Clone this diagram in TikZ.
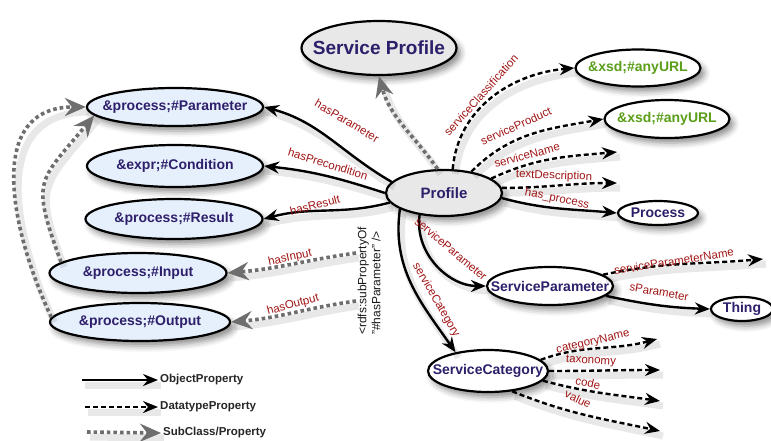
\documentclass[tikz,border=0pt]{standalone}
\usepackage{fontspec}
\setmainfont{Liberation Sans}
\usetikzlibrary{arrows.meta,shapes.geometric,shadows.blur}
\definecolor{nodeink}{HTML}{2E1F6B}
\definecolor{labelred}{HTML}{A01515}
\definecolor{urlgreen}{HTML}{5A9E1A}
\definecolor{paleblue}{HTML}{E6F0FC}
\definecolor{palegray}{HTML}{E8E8E8}
\definecolor{subgray}{HTML}{6E6E6E}
% text inside an ellipse that should not widen it
\newcommand{\innertext}[1]{\makebox[0pt]{#1}}
\tikzset{
  onto/.style={ellipse, draw=black, line width=2.2pt, inner sep=0pt, text=nodeink,
    font=\fontsize{14}{16}\selectfont\bfseries,
    blur shadow={shadow xshift=4pt, shadow yshift=-5pt, shadow blur radius=6pt, shadow opacity=45}},
  classnode/.style={onto, fill=paleblue},
  profnode/.style={onto, fill=palegray},
  plainnode/.style={onto, fill=white},
  urlnode/.style={plainnode, text=urlgreen},
  eshadow/.style={preaction={draw=black, draw opacity=0.09, line width=7pt, solid, -,
    transform canvas={shift={(3pt,-5pt)}}}},
  objprop/.style={eshadow, line width=2.4pt, -{Stealth[length=15pt,width=12pt,inset=5pt]}},
  dataprop/.style={objprop, dash pattern=on 5pt off 3pt},
  subprop/.style={eshadow, draw=subgray, line width=3.6pt, dash pattern=on 3.6pt off 3pt,
    -{Stealth[length=21pt,width=18pt,inset=7pt,fill=subgray]}},
  elabel/.style={text=labelred, font=\fontsize{11.5}{13}\selectfont, inner sep=1pt},
  legtext/.style={font=\fontsize{11.5}{13}\selectfont\bfseries, text=black!85, anchor=west, inner sep=2pt},
  notetext/.style={font=\fontsize{12}{14}\selectfont, text=black!90, align=left, inner sep=1pt},
}
\begin{document}
\begin{tikzpicture}[x=1pt, y=-1pt]
\useasboundingbox (0,0) rectangle (771,440);

% ---- classes ----
\node[profnode, minimum width=155pt, minimum height=54pt, font=\fontsize{19}{22}\selectfont\bfseries] (sp) at (379,48) {\innertext{Service Profile}};
\node[profnode, minimum width=116pt, minimum height=46pt, font=\fontsize{15}{18}\selectfont\bfseries] (prof) at (444,193) {\innertext{Profile}};
\node[classnode, minimum width=176pt, minimum height=38pt] (par) at (175,107) {\innertext{\&process;\#Parameter}};
\node[classnode, minimum width=176pt, minimum height=42pt] (cond) at (175,166) {\innertext{\&expr;\#Condition}};
\node[classnode, minimum width=177pt, minimum height=40pt] (res) at (174,219) {\innertext{\&process;\#Result}};
\node[classnode, minimum width=177pt, minimum height=40pt] (inp) at (138,273) {\innertext{\&process;\#Input}};
\node[classnode, minimum width=180pt, minimum height=38pt] (outp) at (140,322) {\innertext{\&process;\#Output}};
\node[urlnode, minimum width=125pt, minimum height=37pt] (url1) at (638,68) {\innertext{\&xsd;\#anyURL}};
\node[urlnode, minimum width=125pt, minimum height=38pt] (url2) at (667,119) {\innertext{\&xsd;\#anyURL}};
\node[plainnode, minimum width=80pt, minimum height=24pt] (proc) at (658,213) {\innertext{Process}};
\node[plainnode, minimum width=126pt, minimum height=38pt] (spar) at (550,286) {\innertext{ServiceParameter}};
\node[plainnode, minimum width=62pt, minimum height=24pt] (thing) at (742,309) {\innertext{Thing}};
\node[plainnode, minimum width=120pt, minimum height=42pt] (scat) at (488,371) {\innertext{ServiceCategory}};

% ---- open ends of datatype properties ----
\coordinate (nameEnd) at (617,152);
\coordinate (descEnd) at (617,183);
\coordinate (spnEnd) at (763,259);
\coordinate (cnEnd) at (657,339);
\coordinate (taxEnd) at (660,370);
\coordinate (codeEnd) at (660,401);
\coordinate (valEnd) at (660,431);

% ---- subPropertyOf note ----
\node[notetext, rotate=90] (note) at (369,281) {\textless rdfs:subPropertyOf\\"\#hasParameter" />};
\coordinate (inStart) at (356,253);
\coordinate (outStart) at (356,301);

% ---- object properties ----
\draw[objprop] (prof.168) to[out=150, in=-15] (par.east);
\draw[objprop] (prof.180) to[out=162, in=-6] (cond.east);
\draw[objprop] (prof.190) to[out=195, in=15] (res.east);
\draw[objprop] (prof.-5) to[out=-15, in=175] (proc.west);
\draw[objprop] (prof.222) to[out=262, in=180] (spar.west);
\draw[objprop] (prof.200) to[out=262, in=125] (scat.150);
\draw[objprop] (spar.-10) to[out=-12, in=178] (thing.west);

% ---- datatype properties ----
\draw[dataprop] (prof.70) to[out=85, in=185] (url1.west);
\draw[dataprop] (prof.38) to[out=45, in=190] (url2.west);
\draw[dataprop] (prof.17) to[out=25, in=185] (nameEnd);
\draw[dataprop] (prof.5) to[out=0, in=180] (descEnd);
\draw[dataprop] (spar.12) to[out=12, in=185] (spnEnd);
\draw[dataprop] (scat.12) to[out=20, in=195] (cnEnd);
\draw[dataprop] (scat.east) to[out=0, in=180] (taxEnd);
\draw[dataprop] (scat.-10) to[out=-15, in=172] (codeEnd);
\draw[dataprop] (scat.-40) to[out=-22, in=168] (valEnd);

% ---- subclass / subproperty links ----
\draw[subprop] (prof.105) to[out=125, in=-75] (sp.south);
\draw[subprop] (inStart) to[out=188, in=5] (inp.east);
\draw[subprop] (outStart) to[out=188, in=5] (outp.east);
\draw[subprop] (inp.172) to[out=110, in=230, looseness=1.5] (par.186);
\draw[subprop] (outp.177) to[out=115, in=180, looseness=1.2] (par.west);

% ---- property names ----
\node[elabel, rotate=-31] (lPar) at (347,121) {hasParameter};
\node[elabel, rotate=-17] (lPre) at (328,164) {hasPrecondition};
\node[elabel, rotate=14] (lRes) at (315,205) {hasResult};
\node[elabel, rotate=12] (lIn) at (290,258) {hasInput};
\node[elabel, rotate=15] (lOut) at (293,305) {hasOutput};
\node[elabel, rotate=48] (lCls) at (481,95) {serviceClassification};
\node[elabel, rotate=24] (lProd) at (516,126) {serviceProduct};
\node[elabel, rotate=15] (lName) at (527,155) {serviceName};
\node[elabel, rotate=-2] (lDesc) at (554,176) {textDescription};
\node[elabel, rotate=-12] (lProc) at (557,199) {has\_process};
\node[elabel, rotate=-40] (lSPar) at (451,249) {serviceParameter};
\node[elabel, rotate=-60] (lSCat) at (436,300) {serviceCategory};
\node[elabel, rotate=9] (lSPN) at (674,261) {serviceParameterName};
\node[elabel, rotate=-10] (lSP) at (659,292) {sParameter};
\node[elabel, rotate=13] (lCN) at (593,342) {categoryName};
\node[elabel, rotate=-3] (lTax) at (591,361) {taxonomy};
\node[elabel, rotate=-12] (lCode) at (588,383) {code};
\node[elabel, rotate=-25] (lVal) at (578,399) {value};

% ---- legend ----
\coordinate (k1) at (82,380);
\coordinate (k2) at (85,407);
\coordinate (k3) at (87,432);
\node[legtext] (t1) at (158,380) {ObjectProperty};
\node[legtext] (t2) at (158,407) {DatatypeProperty};
\node[legtext] (t3) at (161,433) {SubClass/Property};
\draw[objprop] (k1) -- (t1.west);
\draw[dataprop] (k2) -- (t2.west);
\draw[subprop] (k3) -- (t3.west);
\end{tikzpicture}
\end{document}
